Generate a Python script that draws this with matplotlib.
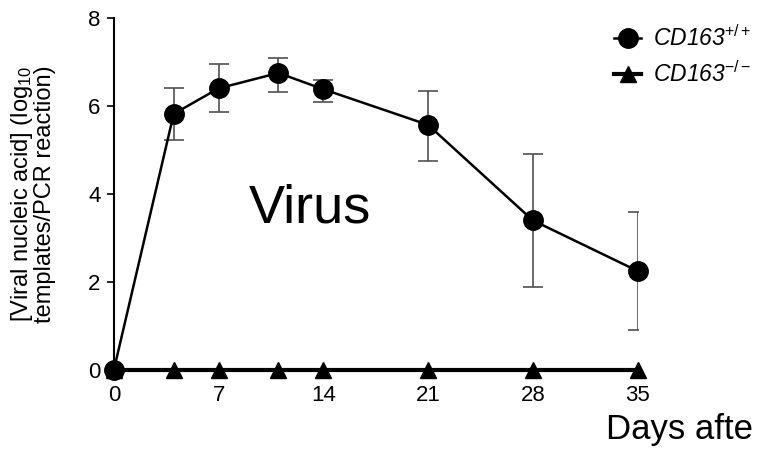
import matplotlib.pyplot as plt
import numpy as np

plt.rcParams['font.family'] = ['Liberation Sans', 'DejaVu Sans']
plt.rcParams['mathtext.fontset'] = 'custom'
plt.rcParams['mathtext.rm'] = 'Liberation Sans'
plt.rcParams['mathtext.it'] = 'Liberation Sans:italic'

# data
days_pos = [0, 4, 7, 11, 14, 21, 28, 35]
virus_pos = [0, 5.82, 6.4, 6.75, 6.38, 5.57, 3.4, 2.25]
err_hi = [0, 6.4, 6.95, 7.1, 6.6, 6.35, 4.9, 3.6]
err_lo = [0, 5.22, 5.86, 6.32, 6.1, 4.75, 1.88, 0.9]

days_neg = [0, 4, 7, 11, 14, 21, 28, 35]
virus_neg = [0, 0, 0, 0, 0, 0, 0, 0]

x_ticks = [0, 7, 14, 21, 28, 35]
y_ticks = [0, 2, 4, 6, 8]

fig = plt.figure(figsize=(7.59, 4.49), dpi=100)
ax = fig.add_axes([0.150, 0.176, 0.690, 0.784])

yerr = [np.array(virus_pos) - np.array(err_lo), np.array(err_hi) - np.array(virus_pos)]
ax.errorbar(days_pos[1:], virus_pos[1:], yerr=[yerr[0][1:], yerr[1][1:]], fmt='none',
            ecolor='#505050', elinewidth=1.2, capsize=7, capthick=1.2, zorder=2)

# knockout line at zero
ax.plot(days_neg, virus_neg, color='black', lw=3, marker='^', ms=12,
        clip_on=False, zorder=3, label='CD163$^{\\mathit{-/-}}$')
ax.plot(days_pos, virus_pos, color='black', lw=1.8, marker='o', ms=14,
        clip_on=False, zorder=4, label='CD163$^{\\mathit{+/+}}$')

ax.set_xlim(0, 35)
ax.set_ylim(0, 8)
ax.set_xticks(x_ticks)
ax.set_yticks(y_ticks)
ax.tick_params(axis='x', length=0, labelsize=16, pad=11)
ax.tick_params(axis='y', length=5, width=1.2, labelsize=16, pad=4.5)

for s in ['top', 'right', 'bottom']:
    ax.spines[s].set_visible(False)
ax.spines['left'].set_linewidth(1.5)

ax.set_ylabel('[Viral nucleic acid] (log$_{10}$\ntemplates/PCR reaction)', fontsize=17,
              linespacing=0.95)
ax.yaxis.set_label_coords(-0.11, 0.5)

handles, labels = ax.get_legend_handles_labels()
fig.legend(handles[::-1], labels[::-1], loc='upper right', bbox_to_anchor=(1.008, 0.974),
           frameon=False, prop={'size': 16.5, 'style': 'italic'}, handlelength=1.2,
           handletextpad=0.5, labelspacing=0.45, borderaxespad=0.2)

fig.text(0.408, 0.535, 'Virus', fontsize=39, ha='center', va='center')
fig.text(0.799, 0.022, 'Days afte', fontsize=25, ha='left', va='baseline')

fig.savefig('out.png', dpi=100)
